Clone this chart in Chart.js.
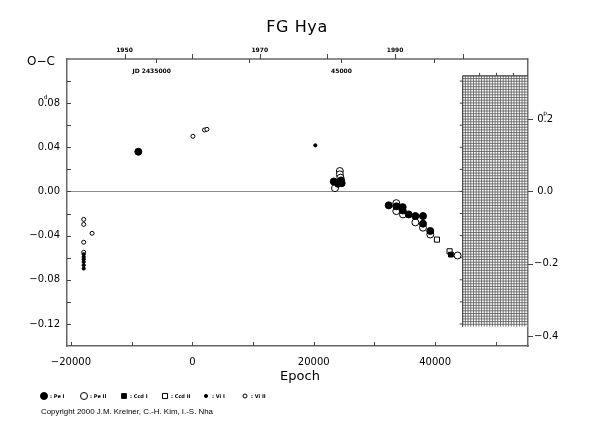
<!DOCTYPE html>
<html><head><meta charset="utf-8">
<script src="https://cdn.jsdelivr.net/npm/chart.js@4.4.1/dist/chart.umd.min.js"></script>
<style>html,body{margin:0;padding:0;background:#fff;}#wrap{width:590px;height:425px;position:relative;}</style>
</head><body><div id="wrap"><canvas id="c" width="590" height="425"></canvas></div>
<script>
// ---- Data (epoch, O-C in days) ----
const peI_epoch = [-8900, 23300, 24000, 24500, 24600, 32350, 33600, 34650, 34650, 35640, 36740, 38000, 38000, 39200];
const peI_oc    = [0.036, 0.009, 0.007, 0.010, 0.0075, -0.0126, -0.0135, -0.0142, -0.0172, -0.0208, -0.0223, -0.0223, -0.0292, -0.0358];
const peII_epoch = [23500, 24300, 24300, 24400, 33600, 33600, 34700, 36740, 38000, 39200, 43700];
const peII_oc    = [0.003, 0.0185, 0.0155, 0.0125, -0.0106, -0.0178, -0.0208, -0.028, -0.0328, -0.039, -0.058];
const ccdI_epoch = [39300, 42600];
const ccdI_oc    = [-0.0365, -0.0572];
const ccdII_epoch = [40300, 42380];
const ccdII_oc    = [-0.0436, -0.0542];
const viI_epoch = [20260, -17900, -17900, -17900, -17900, -17900, -17900];
const viI_oc    = [0.0418, -0.0569, -0.0593, -0.0614, -0.0638, -0.0668, -0.0698];
const viII_epoch = [100, 2000, 2400, -17900, -17900, -16520, -17900, -17900];
const viII_oc    = [0.050, 0.0557, 0.0563, -0.0253, -0.0298, -0.0379, -0.0460, -0.0551];

// ---- Ephemeris / axis definitions ----
const PERIOD = 0.32783;
const T0 = 2436944;
const X_MIN = -20650, X_MAX = 55300;
const Y_MIN = -0.14, Y_MAX = 0.12;
const xTicks = [-20000, -10000, 0, 10000, 20000, 30000, 40000, 50000];
const xLabels = ['\u221220000', '', '0', '', '20000', '', '40000', ''];
const yTicks = [-0.12, -0.10, -0.08, -0.06, -0.04, -0.02, 0, 0.02, 0.04, 0.06, 0.08, 0.10];
const yLabels = ['\u22120.12', '', '\u22120.08', '', '\u22120.04', '', '0.00', '', '0.04', '', '0.08', ''];
const y2Ticks = [-0.4, -0.2, 0, 0.2];
const y2Labels = ['\u22120.4', '\u22120.2', ' 0.0', ' 0.2'];
const yearTicks = [1950, 1960, 1970, 1980, 1990, 2000];
const yearLabels = ['1950', '', '1970', '', '1990', ''];
const jdTicks = [2435000, 2440000, 2445000, 2450000];
const jdLabels = ['JD 2435000', '', '45000', ''];
const hatchYears = [2000, 2010];
const hatchOC = [-0.1225, 0.1047];
const hatchYearTicks = [2002.5, 2005, 2007.5];
const legendNames = [': Pe I', ': Pe II', ': Ccd I', ': Ccd II', ': Vi I', ': Vi II'];

const jdToEpoch = jd => (jd - T0) / PERIOD;
const yearToEpoch = yr => jdToEpoch(2433282.42 + (yr - 1950) * 365.25);
const pts = (xs, ys) => xs.map((x, i) => ({x: x, y: ys[i]}));

const styles = [
  {style: 'circle', r: 3.5, fill: '#000'},
  {style: 'circle', r: 3.5, fill: '#fff'},
  {style: 'rect', r: 3.4, fill: '#000'},
  {style: 'rect', r: 3.6, fill: '#fff'},
  {style: 'circle', r: 1.6, fill: '#000'},
  {style: 'circle', r: 2.0, fill: '#fff'}
];
const series = [
  pts(peI_epoch, peI_oc), pts(peII_epoch, peII_oc), pts(ccdI_epoch, ccdI_oc),
  pts(ccdII_epoch, ccdII_oc), pts(viI_epoch, viI_oc), pts(viII_epoch, viII_oc)
];
const datasets = series.map((d, i) => ({
  label: legendNames[i], data: d, showLine: false,
  pointStyle: styles[i].style, pointRadius: styles[i].r, pointHoverRadius: styles[i].r,
  backgroundColor: styles[i].fill, borderColor: '#000', borderWidth: 1
}));

const AX = '#666';
const FONT = 'DejaVu Sans';

const decor = {
  id: 'decor',
  beforeDatasetsDraw(chart) {
    const ctx = chart.ctx, a = chart.chartArea, x = chart.scales.x, y = chart.scales.y;
    ctx.save();
    // zero line
    const y0 = Math.round(y.getPixelForValue(0)) + 0.5;
    ctx.strokeStyle = '#8a8a8a'; ctx.lineWidth = 1;
    ctx.beginPath(); ctx.moveTo(a.left, y0); ctx.lineTo(a.right, y0); ctx.stroke();
    // hatched region
    const hx0 = x.getPixelForValue(yearToEpoch(hatchYears[0]));
    const hx1 = Math.min(a.right, x.getPixelForValue(yearToEpoch(hatchYears[1])));
    const hy0 = y.getPixelForValue(hatchOC[1]);
    const hy1 = y.getPixelForValue(hatchOC[0]);
    ctx.fillStyle = '#fff'; ctx.fillRect(hx0, hy0, hx1 - hx0, hy1 - hy0);
    ctx.strokeStyle = '#555'; ctx.lineWidth = 0.8;
    ctx.beginPath();
    for (let px = hx0; px <= hx1 + 0.1; px += 2.7) { ctx.moveTo(px, hy0); ctx.lineTo(px, hy1); }
    for (let py = hy0; py <= hy1 + 0.1; py += 2.7) { ctx.moveTo(hx0, py); ctx.lineTo(hx1, py); }
    ctx.stroke();
    ctx.strokeStyle = '#444'; ctx.lineWidth = 1;
    ctx.beginPath();
    ctx.moveTo(hx0, hy1); ctx.lineTo(hx0, hy0); ctx.lineTo(hx1, hy0); ctx.stroke();
    // hatch edge ticks
    ctx.beginPath();
    yTicks.forEach(v => { const py = y.getPixelForValue(v); if (py > hy0 && py < hy1) { ctx.moveTo(hx0, py); ctx.lineTo(hx0 - 3, py); } });
    hatchYearTicks.forEach(v => { const px = x.getPixelForValue(yearToEpoch(v)); ctx.moveTo(px, hy0); ctx.lineTo(px, hy0 - 3); });
    ctx.stroke();
    ctx.restore();
  },
  afterDraw(chart) {
    const ctx = chart.ctx, a = chart.chartArea, x = chart.scales.x, y = chart.scales.y, y2 = chart.scales.y2;
    ctx.save();
    ctx.strokeStyle = AX; ctx.lineWidth = 1.5;
    // top border
    ctx.beginPath(); ctx.moveTo(a.left, a.top); ctx.lineTo(a.right, a.top); ctx.stroke();
    ctx.lineWidth = 1; ctx.strokeStyle = '#444';
    ctx.beginPath();
    xTicks.forEach(v => { const px = Math.round(x.getPixelForValue(v)) + 0.5; ctx.moveTo(px, a.bottom); ctx.lineTo(px, a.bottom - 4); });
    yTicks.forEach(v => { const py = Math.round(y.getPixelForValue(v)) + 0.5; ctx.moveTo(a.left, py); ctx.lineTo(a.left + 4, py); });
    y2Ticks.forEach(v => { const py = Math.round(y2.getPixelForValue(v)) + 0.5; ctx.moveTo(a.right, py); ctx.lineTo(a.right + 5, py); });
    yearTicks.forEach(v => { const px = Math.round(x.getPixelForValue(yearToEpoch(v))) + 0.5; ctx.moveTo(px, a.top); ctx.lineTo(px, a.top - 5); });
    jdTicks.forEach(v => { const px = Math.round(x.getPixelForValue(jdToEpoch(v))) + 0.5; ctx.moveTo(px, a.top); ctx.lineTo(px, a.top + 4); });
    ctx.stroke();
    // top labels
    ctx.fillStyle = '#000';
    ctx.font = 'bold 6px ' + FONT; ctx.textAlign = 'center'; ctx.textBaseline = 'middle';
    yearTicks.forEach((v, i) => { if (yearLabels[i]) ctx.fillText(yearLabels[i], x.getPixelForValue(yearToEpoch(v)), a.top - 8.5); });
    jdTicks.forEach((v, i) => {
      const lab = jdLabels[i]; if (!lab) return;
      const px = x.getPixelForValue(jdToEpoch(v));
      const parts = lab.split(' ');
      const num = parts[parts.length - 1];
      const pre = lab.slice(0, lab.length - num.length);
      const wNum = ctx.measureText(num).width, wPre = ctx.measureText(pre).width;
      ctx.textAlign = 'left';
      ctx.fillText(lab, px - wNum / 2 - wPre, a.top + 12);
    });
    // superscripts for units
    ctx.font = '10px ' + FONT; ctx.textAlign = 'left';
    const lab08 = yLabels[yTicks.indexOf(0.08)];
    const right08 = a.left - 7;
    const wAll = ctx.measureText(lab08).width, w0 = ctx.measureText('0').width, wDot = ctx.measureText('.').width;
    const dotX = right08 - wAll + w0 + wDot / 2;
    const lab2 = y2Labels[y2Ticks.indexOf(0.2)];
    const left2 = a.right + 6;
    const w20 = ctx.measureText(lab2.slice(0, lab2.indexOf('.'))).width;
    const dotX2 = left2 + w20 + wDot / 2;
    ctx.font = '6px ' + FONT; ctx.textAlign = 'center';
    ctx.fillText('d', dotX, y.getPixelForValue(0.08) - 6);
    ctx.fillText('p', dotX2, y2.getPixelForValue(0.2) - 6);
    // titles
    ctx.font = '16px ' + FONT; ctx.textAlign = 'center'; ctx.textBaseline = 'middle';
    ctx.letterSpacing = '0.6px';
    ctx.fillText('FG Hya', 297, 28);
    ctx.letterSpacing = '0px';
    ctx.font = '12px ' + FONT; ctx.textAlign = 'left';
    ctx.fillText('O\u2212C', 27, 62);
    ctx.font = '13px ' + FONT; ctx.textAlign = 'center';
    ctx.fillText('Epoch', 300, 377);
    // legend
    const lx = [44, 84, 124, 165, 206, 245], ly = 396;
    styles.forEach((s, i) => {
      ctx.fillStyle = s.fill; ctx.strokeStyle = '#000'; ctx.lineWidth = 1;
      ctx.beginPath();
      if (s.style === 'circle') { ctx.arc(lx[i], ly, s.r, 0, Math.PI * 2); }
      else { const h = s.r * Math.SQRT1_2; ctx.rect(lx[i] - h, ly - h, 2 * h, 2 * h); }
      ctx.fill(); ctx.stroke();
      ctx.fillStyle = '#000'; ctx.font = 'bold 5px ' + FONT; ctx.textAlign = 'left';
      ctx.fillText(legendNames[i], lx[i] + 6, ly + 0.5);
    });
    ctx.font = '8px "Liberation Sans"'; ctx.textAlign = 'left';
    ctx.fillText('Copyright 2000 J.M. Kreiner, C.-H. Kim, I.-S. Nha', 41, 412, 172);
    ctx.restore();
  }
};

const labelFrom = (ticks, labels) => v => { const i = ticks.findIndex(t => Math.abs(t - v) < 1e-9); return i >= 0 ? labels[i] : ''; };

new Chart(document.getElementById('c'), {
  type: 'scatter',
  data: {datasets: datasets},
  options: {
    responsive: false, animation: false, devicePixelRatio: 1,
    layout: {padding: {top: 59, left: 0, right: 0, bottom: 0}},
    plugins: {legend: {display: false}, tooltip: {enabled: false}, title: {display: false}},
    scales: {
      x: {
        type: 'linear', position: 'bottom', min: X_MIN, max: X_MAX,
        afterBuildTicks: s => { s.ticks = xTicks.map(v => ({value: v})); },
        afterFit: s => { s.height = 79; },
        grid: {display: false, drawTicks: false},
        border: {display: true, color: AX, width: 1.5},
        ticks: {autoSkip: false, maxRotation: 0, padding: 10, color: '#000', font: {family: FONT, size: 10},
          callback: labelFrom(xTicks, xLabels)}
      },
      y: {
        type: 'linear', position: 'left', min: Y_MIN, max: Y_MAX,
        afterBuildTicks: s => { s.ticks = yTicks.map(v => ({value: v})); },
        afterFit: s => { s.width = 67; },
        grid: {display: false, drawTicks: false},
        border: {display: true, color: AX, width: 1.5},
        ticks: {autoSkip: false, padding: 7, color: '#000', font: {family: FONT, size: 10},
          callback: labelFrom(yTicks, yLabels)}
      },
      y2: {
        type: 'linear', position: 'right', min: Y_MIN / PERIOD, max: Y_MAX / PERIOD,
        afterBuildTicks: s => { s.ticks = y2Ticks.map(v => ({value: v})); },
        afterFit: s => { s.width = 62; },
        grid: {display: false, drawTicks: false},
        border: {display: true, color: AX, width: 1.5},
        ticks: {autoSkip: false, padding: 6, color: '#000', font: {family: FONT, size: 10},
          callback: labelFrom(y2Ticks, y2Labels)}
      }
    }
  },
  plugins: [decor]
});
</script></body></html>
